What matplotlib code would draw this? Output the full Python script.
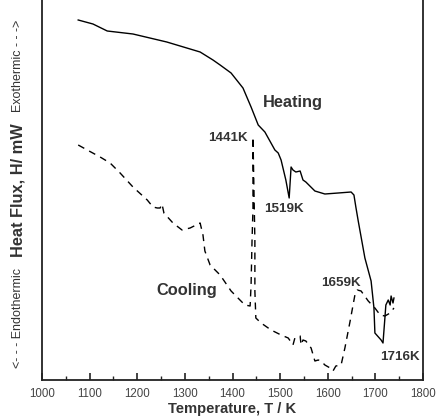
import matplotlib
matplotlib.use("Agg")
import matplotlib.pyplot as plt
from matplotlib.ticker import MultipleLocator

plt.rcParams['font.family'] = ['Liberation Sans', 'DejaVu Sans']

# Heating curve (solid): temperature (K), heat flux (arb. units)
heat_T = [1076, 1107, 1137, 1191, 1262, 1332, 1359, 1374, 1397, 1422, 1439, 1454,
          1468, 1489, 1496, 1502, 1512, 1519, 1523, 1527, 1533, 1542, 1548, 1554,
          1573, 1594, 1622, 1649, 1655, 1659, 1664, 1678, 1691, 1697, 1699, 1712,
          1716, 1720, 1722, 1727, 1731, 1733, 1737, 1739]
heat_H = [36.0, 35.6, 34.9, 34.6, 33.8, 32.8, 32.0, 31.5, 30.7, 29.2, 27.3, 25.5,
          24.8, 23.0, 22.7, 22.0, 20.0, 18.2, 21.3, 21.0, 20.8, 20.9, 20.0, 19.8,
          18.9, 18.6, 18.7, 18.8, 18.5, 17.3, 15.9, 12.2, 9.9, 7.2, 4.7, 4.0,
          3.7, 6.2, 7.5, 8.0, 7.5, 8.4, 7.7, 8.2]

# Cooling curve (dashed)
cool_T = [1076, 1095, 1122, 1143, 1164, 1191, 1221, 1233, 1242, 1248,
          1252, 1256, 1275, 1294, 1311, 1332, 1338, 1342, 1353, 1374,
          1397, 1426, 1437, 1439, 1441, 1443, 1443, 1447, 1447, 1449,
          1460, 1481, 1502, 1517, 1527, 1531, 1542, 1544, 1548, 1554,
          1565, 1573, 1580, 1586, 1594, 1605, 1611, 1617, 1628, 1636,
          1647, 1657, 1662, 1670, 1685, 1699, 1710, 1720, 1731, 1739]
cool_H = [23.5, 23.0, 22.3, 21.7, 20.7, 19.3, 18.0, 17.3, 17.2, 17.2,
          17.6, 16.7, 15.7, 15.0, 15.2, 15.7, 14.5, 12.9, 11.5, 10.5,
          8.9, 7.5, 7.4, 9.5, 13.9, 17.2, 24.3, 13.9, 8.9, 6.2,
          5.7, 5.0, 4.5, 4.2, 3.5, 4.2, 4.4, 3.5, 4.0, 3.9,
          3.2, 1.9, 2.0, 1.9, 1.5, 1.2, 0.9, 1.4, 1.5, 3.2,
          5.9, 8.5, 9.0, 8.9, 7.9, 7.2, 6.5, 6.4, 6.7, 7.2]

fig = plt.figure(figsize=(4.38, 4.16), dpi=100)
ax = fig.add_axes([42/438, 36/416, 381/438, 380/416])

ax.plot(heat_T, heat_H, color='black', lw=1.0)
ax.plot(cool_T, cool_H, color='black', lw=1.0, linestyle=(0, (5, 4)))

ax.set_xlim(1000, 1800)
ax.set_ylim(0, 38)
ax.xaxis.set_major_locator(MultipleLocator(100))
ax.xaxis.set_minor_locator(MultipleLocator(50))
ax.tick_params(axis='x', which='major', direction='in', length=5, width=1.2,
               labelsize=8.3, colors='#222222', labelcolor='#444444', pad=6)
ax.tick_params(axis='x', which='minor', direction='in', length=3, width=1.0,
               colors='#222222')
ax.set_yticks([])
ax.spines['top'].set_visible(False)
for s in ['left', 'right', 'bottom']:
    ax.spines[s].set_linewidth(1.3)
    ax.spines[s].set_color('#222222')

ax.set_xlabel('Temperature, T / K', fontsize=10.6, fontweight='bold',
              color='#333333', labelpad=1)

tc = '#333333'
ax.text(1527, 27.7, 'Heating', fontsize=11.8, fontweight='bold', color=tc,
        ha='center', va='center')
ax.text(1304, 8.9, 'Cooling', fontsize=11.8, fontweight='bold', color=tc,
        ha='center', va='center')
ax.text(1390, 24.2, '1441K', fontsize=9.6, fontweight='bold', color=tc,
        ha='center', va='center')
ax.text(1509, 17.1, '1519K', fontsize=9.6, fontweight='bold', color=tc,
        ha='center', va='center')
ax.text(1627, 9.7, '1659K', fontsize=9.6, fontweight='bold', color=tc,
        ha='center', va='center')
ax.text(1751, 2.3, '1716K', fontsize=9.6, fontweight='bold', color=tc,
        ha='center', va='center')

# y-axis label pieces
fig.text(18/438, 1 - 190/416, 'Heat Flux, H/ mW', rotation=90, fontsize=11.8,
         fontweight='bold', color=tc, ha='center', va='center')
fig.text(18/438, 1 - 66/416, 'Exothermic - - ->', rotation=90, fontsize=9,
         color=tc, ha='center', va='center')
fig.text(18/438, 1 - 318/416, '<- - - Endothermic', rotation=90, fontsize=9,
         color=tc, ha='center', va='center')

fig.savefig('out.png', dpi=100)
